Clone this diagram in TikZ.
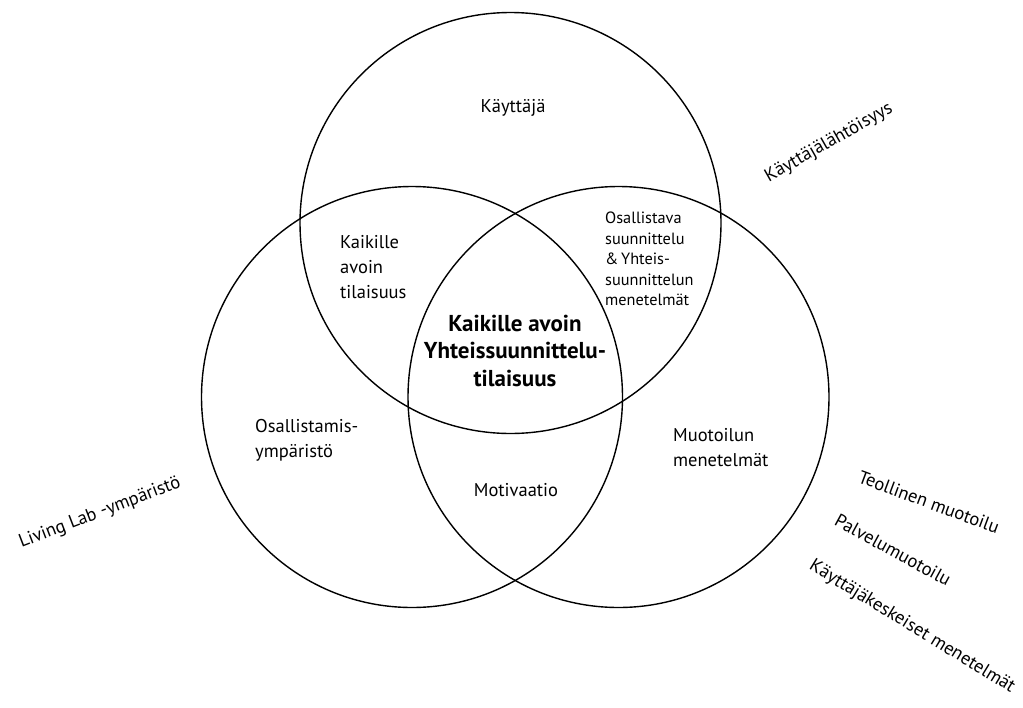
\documentclass[tikz,border=0pt]{standalone}
\usepackage{fontspec}
\setmainfont{PT Sans}
\begin{document}
\begin{tikzpicture}[x=1pt,y=-1pt,
  ring/.style={draw=black,line width=1.4pt,circle,minimum size=421pt,inner sep=0pt},
  lbl/.style={inner sep=0pt,font=\fontsize{18.5}{25}\selectfont},
  small/.style={inner sep=0pt,align=left,font=\fontsize{16.3}{20.5}\selectfont},
  core/.style={inner sep=0pt,align=center,font=\fontsize{23}{27.5}\selectfont\bfseries}]
\useasboundingbox (0,0) rectangle (1023,707);
% the three overlapping circles
\node[ring] (user) at (510.5,223) {};
\node[ring] (env) at (412,397) {};
\node[ring] (design) at (618.5,397) {};
% texts inside
\node[lbl] (kayttaja) at (513,108) {Käyttäjä};
\node[lbl,align=left,anchor=west] (avoin) at (340,267) {Kaikille\\avoin\\tilaisuus};
\node[lbl,align=left,anchor=west] (osall) at (255,440.5) {Osallistamis-\\ympäristö};
\node[small,anchor=west] (osv) at (605,259) {Osallistava\\suunnittelu\\\&\,Yhteis-\\suunnittelun\\menetelmät};
\node[lbl,align=left,anchor=west] (muot) at (673,447.5) {Muotoilun\\menetelmät};
\node[lbl] (motiv) at (516,490) {Motivaatio};
\node[core] (center) at (515,350.5) {Kaikille avoin\\Yhteissuunnittelu-\\tilaisuus};
% rotated labels outside
\node[lbl,rotate=29.6] (kl) at (829,143) {Käyttäjälähtöisyys};
\node[lbl,rotate=21] (ll) at (100,513) {Living Lab -ympäristö};
\node[lbl,rotate=-20.4] (tm) at (929,502) {Teollinen muotoilu};
\node[lbl,rotate=-28.6] (pm) at (893,550) {Palvelumuotoilu};
\node[lbl,rotate=-31.5] (km) at (912,627) {Käyttäjäkeskeiset menetelmät};
\end{tikzpicture}
\end{document}
